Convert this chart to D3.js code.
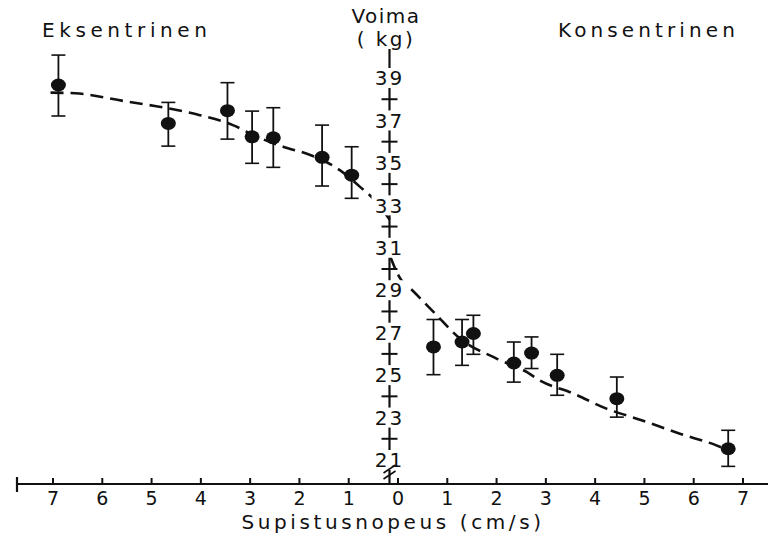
<!DOCTYPE html>
<html>
<head>
<meta charset="utf-8">
<script src="https://cdn.jsdelivr.net/npm/d3@7/dist/d3.min.js"></script>
<style>
  body { margin: 0; background: #fff; }
  text { font-family: "DejaVu Sans", sans-serif; fill: #111; }
</style>
</head>
<body>
<div id="chart"></div>
<script>
// Chart size (matches the reference window)
const width = 768;
const height = 545;

// Speed in cm/s, eccentric side negative
const speed = [-6.88, -4.65, -3.45, -2.95, -2.52, -1.53, -0.93, 0.73, 1.31, 1.54, 2.36, 2.72, 3.24, 4.45, 6.71];
// Force in kg (mean) with the ends of the error bars
const force = [38.67, 36.86, 37.46, 36.23, 36.18, 35.26, 34.42, 26.33, 26.56, 26.96, 25.57, 26.04, 24.99, 23.89, 21.53];
const forceHigh = [40.08, 37.85, 38.78, 37.44, 37.6, 36.78, 35.76, 27.62, 27.62, 27.82, 26.56, 26.8, 25.98, 24.91, 22.4];
const forceLow = [37.21, 35.79, 36.12, 34.98, 34.79, 33.91, 33.33, 25.02, 25.46, 25.98, 24.67, 25.31, 24.05, 23.02, 20.7];

// Dashed fitted curve, two branches
const eccCurveSpeed = [-7.04, -6.54, -5.57, -4.68, -4.01, -3.34, -2.85, -2.32, -1.77, -1.17, -0.76, -0.5, -0.12];
const eccCurveForce = [38.31, 38.28, 37.92, 37.58, 37.25, 36.78, 36.23, 35.76, 35.37, 34.66, 33.87, 33.33, 32.2];
const conCurveSpeed = [-0.15, 0.08, 0.19, 0.73, 1.27, 2.01, 2.62, 2.89, 3.56, 4.24, 4.92, 5.73, 6.47, 6.6];
const conCurveForce = [30.6, 29.47, 29.24, 27.98, 26.72, 25.78, 25.15, 24.75, 24.14, 23.42, 22.9, 22.24, 21.69, 21.57];

// Axis ticks
const xTicks = [-7, -6, -5, -4, -3, -2, -1, 0, 1, 2, 3, 4, 5, 6, 7];
const yLabels = [39, 37, 35, 33, 31, 29, 27, 25, 23, 21];
const yCrosses = [38, 36, 34, 32, 30, 28, 26, 24, 22];

const svg = d3.select("#chart")
    .append("svg")
    .attr("width", width)
    .attr("height", height);

const x = d3.scaleLinear().domain([-7, 7]).range([52.5, 742.5]);
const y = d3.scaleLinear().domain([21, 39]).range([460, 78]);

const axisY = 484;          // horizontal axis position
const vx = x(0) - 8;        // vertical axis sits a bit left of the zero tick

// Horizontal axis
svg.append("line")
    .attr("x1", 17).attr("x2", width)
    .attr("y1", axisY).attr("y2", axisY)
    .attr("stroke", "#111").attr("stroke-width", 2.2);
svg.append("line")
    .attr("x1", 17).attr("x2", 17)
    .attr("y1", axisY - 7).attr("y2", axisY + 8)
    .attr("stroke", "#111").attr("stroke-width", 2.2);

const xAxis = svg.append("g")
    .attr("transform", `translate(0,${axisY})`)
    .call(d3.axisBottom(x)
        .tickValues(xTicks)
        .tickSize(-6)
        .tickPadding(8)
        .tickFormat(d => Math.abs(d)));
xAxis.select(".domain").remove();
xAxis.selectAll(".tick line").attr("stroke", "#111").attr("stroke-width", 2);
xAxis.selectAll(".tick text")
    .attr("font-size", 19)
    .attr("font-family", "DejaVu Sans, sans-serif")
    .attr("fill", "#111");

svg.append("text")
    .attr("x", 393).attr("y", 529)
    .attr("text-anchor", "middle")
    .attr("font-size", 20)
    .attr("letter-spacing", 3.6)
    .text("Supistusnopeus (cm/s)");

// Dashed curves
const line = d3.line()
    .x(d => x(d[0]))
    .y(d => y(d[1]))
    .curve(d3.curveMonotoneX);

[[eccCurveSpeed, eccCurveForce], [conCurveSpeed, conCurveForce]].forEach(([xs, ys]) => {
    svg.append("path")
        .datum(xs.map((v, i) => [v, ys[i]]))
        .attr("d", line)
        .attr("fill", "none")
        .attr("stroke", "#111")
        .attr("stroke-width", 2.6)
        .attr("stroke-dasharray", "13,7");
});

// Vertical axis
svg.append("line")
    .attr("x1", vx).attr("x2", vx)
    .attr("y1", 49).attr("y2", axisY)
    .attr("stroke", "#111").attr("stroke-width", 2.2);

svg.selectAll(".ycross")
    .data(yCrosses)
    .join("line")
    .attr("x1", vx - 8).attr("x2", vx + 8)
    .attr("y1", d => y(d)).attr("y2", d => y(d))
    .attr("stroke", "#111").attr("stroke-width", 2);

const yl = svg.selectAll(".ylabel")
    .data(yLabels)
    .join("g")
    .attr("transform", d => `translate(${vx},${y(d)})`);
yl.append("rect")
    .attr("x", -18).attr("y", -10)
    .attr("width", 36).attr("height", 20)
    .attr("fill", "#fff");
yl.append("text")
    .attr("text-anchor", "middle")
    .attr("dy", "0.36em")
    .attr("font-size", 20)
    .attr("letter-spacing", 2)
    .text(d => d);

// Axis break mark
[-3, 3].forEach(off => {
    svg.append("line")
        .attr("x1", vx - 6).attr("x2", vx + 6)
        .attr("y1", 476 + off).attr("y2", 468 + off)
        .attr("stroke", "#111").attr("stroke-width", 1.6);
});

// Error bars and points
const pts = speed.map((s, i) => ({ s, f: force[i], hi: forceHigh[i], lo: forceLow[i] }));

const bars = svg.selectAll(".err")
    .data(pts)
    .join("g");
bars.append("line")
    .attr("x1", d => x(d.s)).attr("x2", d => x(d.s))
    .attr("y1", d => y(d.hi)).attr("y2", d => y(d.lo))
    .attr("stroke", "#111").attr("stroke-width", 1.8);
bars.append("line")
    .attr("x1", d => x(d.s) - 7).attr("x2", d => x(d.s) + 7)
    .attr("y1", d => y(d.hi)).attr("y2", d => y(d.hi))
    .attr("stroke", "#111").attr("stroke-width", 1.6);
bars.append("line")
    .attr("x1", d => x(d.s) - 7).attr("x2", d => x(d.s) + 7)
    .attr("y1", d => y(d.lo)).attr("y2", d => y(d.lo))
    .attr("stroke", "#111").attr("stroke-width", 1.6);
bars.append("ellipse")
    .attr("cx", d => x(d.s)).attr("cy", d => y(d.f))
    .attr("rx", 7.5).attr("ry", 6.5)
    .attr("fill", "#111");

// Titles
svg.append("text")
    .attr("x", 42).attr("y", 37)
    .attr("font-size", 20)
    .attr("letter-spacing", 4.6)
    .text("Eksentrinen");
svg.append("text")
    .attr("x", 558).attr("y", 37)
    .attr("font-size", 20)
    .attr("letter-spacing", 4.1)
    .text("Konsentrinen");
svg.append("text")
    .attr("x", 386).attr("y", 23)
    .attr("text-anchor", "middle")
    .attr("font-size", 20)
    .attr("letter-spacing", 1.5)
    .text("Voima");
svg.append("text")
    .attr("x", 386).attr("y", 46)
    .attr("text-anchor", "middle")
    .attr("font-size", 20)
    .attr("letter-spacing", 2.5)
    .text("( kg)");
</script>
</body>
</html>
